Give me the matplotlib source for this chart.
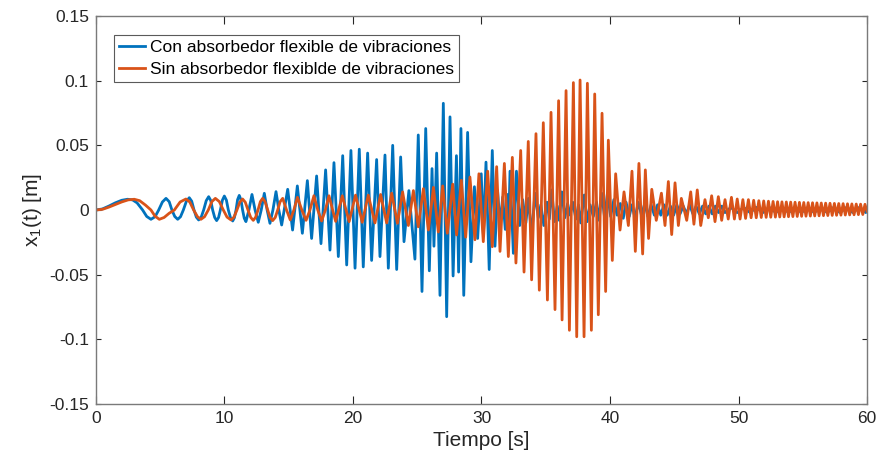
import matplotlib
matplotlib.use('Agg')
import numpy as np
import matplotlib.pyplot as plt

plt.rcParams['font.family'] = ['Liberation Sans', 'DejaVu Sans']
plt.rcParams['mathtext.fontset'] = 'custom'
plt.rcParams['mathtext.rm'] = 'Liberation Sans'
plt.rcParams['mathtext.it'] = 'Liberation Sans'

BLUE = '#0072BD'
ORANGE = '#D95319'
AXC = '#262626'

# with the flexible absorber: (time [s], x1 [m]) at turning points / crossings
con_pts = [
    (0.0, 0.0), (0.5, 0.0008), (1.0, 0.0030), (1.5, 0.0055), (2.0, 0.0075),
    (2.46, 0.0083), (2.85, 0.0078), (3.2, 0.0055), (3.63, 0.0), (3.95, -0.0050),
    (4.28, -0.0072), (4.6, -0.0052), (4.88, 0.0), (5.17, 0.0062), (5.45, 0.0090),
    (5.70, 0.0064), (5.91, 0.0), (6.13, -0.0050), (6.36, -0.0072), (6.58, -0.0052),
    (6.80, 0.0), (7.03, 0.0066), (7.26, 0.0095), (7.45, 0.0068), (7.63, 0.0),
    (7.81, -0.0055), (7.99, -0.0077), (8.19, -0.0055), (8.38, 0.0), (8.58, 0.0072),
    (8.77, 0.0103), (8.93, 0.0074), (9.08, 0.0), (9.24, -0.0058), (9.39, -0.0082),
    (9.54, -0.0058), (9.68, 0.0), (9.84, 0.0076), (9.99, 0.0108), (10.15, 0.0076),
    (10.30, 0.0), (10.47, -0.0060), (10.64, -0.0085), (10.77, -0.0060), (10.90, 0.0),
    (11.02, 0.0080), (11.15, 0.0113), (11.28, 0.0080), (11.41, 0.0), (11.54, -0.0064),
    (11.67, -0.0090), (11.90, 0.0), (12.14, 0.0120), (12.38, 0.0), (12.63, -0.0095),
    (12.86, 0.0), (13.10, 0.0129), (13.32, 0.0), (13.54, -0.0103), (13.77, 0.0),
    (14.01, 0.0142), (14.23, 0.0), (14.45, -0.0116), (14.92, 0.0160), (15.30, -0.0155),
    (15.67, 0.0186), (16.06, -0.0180), (16.45, 0.0227), (16.78, -0.0220), (17.17, 0.0263),
    (17.51, -0.0260), (17.87, 0.0310), (18.21, -0.0310), (18.52, 0.0366), (18.86, -0.0360),
    (19.20, 0.0420), (19.51, -0.0425), (19.84, 0.0460), (20.16, -0.0450), (20.49, 0.0470),
    (20.80, -0.0440), (21.14, 0.0440), (21.45, -0.0390), (21.84, 0.0390), (22.10, -0.0360),
    (22.49, 0.0425), (22.75, -0.0450), (23.09, 0.0500), (23.40, -0.0460), (23.71, 0.0410),
    (23.97, -0.0245), (24.35, 0.0150), (24.82, -0.0380), (25.08, 0.0580), (25.37, -0.0630),
    (25.66, 0.0630), (25.94, -0.0470), (26.15, 0.0320), (26.30, -0.0280), (26.51, 0.0440),
    (26.77, -0.0660), (27.03, 0.0825), (27.29, -0.0825), (27.55, 0.0720), (27.79, -0.0510),
    (28.05, 0.0420), (28.22, -0.0480), (28.40, 0.0630), (28.62, -0.0660), (28.92, 0.0600),
    (29.18, -0.0400), (29.45, 0.0180), (29.70, -0.0220), (29.98, 0.0280), (30.15, -0.0200),
    (30.35, 0.0370), (30.60, -0.0460), (30.84, 0.0460), (31.05, -0.0280), (31.25, 0.0150),
    (31.45, -0.0120), (31.65, 0.0100), (31.85, -0.0150), (32.02, 0.0120), (32.12, -0.0100),
    (32.22, 0.0300), (32.48, -0.0335), (32.72, 0.0300), (32.97, -0.0120), (33.20, 0.0080),
    (33.45, -0.0100), (33.65, 0.0090), (33.90, -0.0200), (34.16, 0.0130), (34.42, -0.0060),
    (34.62, 0.0040), (34.85, -0.0120), (35.10, 0.0060), (35.28, -0.0070), (35.46, 0.0155),
    (35.68, -0.0090), (35.90, 0.0030), (36.05, -0.0080), (36.25, 0.0140), (36.48, -0.0060),
    (36.70, 0.0050), (36.90, -0.0040), (37.10, 0.0060), (37.35, -0.0070), (37.55, 0.0040),
    (37.72, -0.0100), (38.00, 0.0116), (38.22, -0.0090), (38.45, 0.0040), (38.70, -0.0050),
    (38.95, 0.0060), (39.15, -0.0080), (39.35, 0.0130), (39.58, -0.0060), (39.80, 0.0130),
    (40.05, -0.0050), (40.30, 0.0080), (40.55, -0.0040), (40.80, 0.0050), (41.03, -0.0064),
    (41.25, 0.0060), (41.50, -0.0050), (41.70, 0.0040), (41.95, -0.0060), (42.20, 0.0060),
    (42.45, -0.0040), (42.70, 0.0050), (42.95, -0.0050), (43.20, 0.0040), (43.45, -0.0040),
    (43.70, 0.0040), (43.95, -0.0040), (44.20, 0.0040), (44.45, -0.0040), (44.70, 0.0030),
    (44.95, -0.0040), (45.20, 0.0040), (45.45, -0.0030), (45.70, 0.0030), (45.95, -0.0030),
    (46.20, 0.0040), (46.45, -0.0030), (46.70, 0.0030), (46.95, -0.0030), (47.20, 0.0030),
    (47.45, -0.0030), (47.70, 0.0030), (47.95, -0.0030), (48.20, 0.0030), (48.45, -0.0020),
    (48.70, 0.0030), (48.95, -0.0020), (49.40, 0.0020), (49.90, -0.0020), (50.40, 0.0020),
    (50.90, -0.0020), (51.40, 0.0020), (51.90, -0.0020), (52.40, 0.0020), (52.90, -0.0020),
    (53.40, 0.0020), (53.90, -0.0020), (54.40, 0.0020), (54.90, -0.0020), (55.40, 0.0020),
    (55.90, -0.0020), (56.40, 0.0020), (56.90, -0.0020), (57.40, 0.0020), (57.90, -0.0020),
    (58.40, 0.0020), (58.90, -0.0020), (59.40, 0.0020), (59.90, -0.0020), (60.0, 0.0),
]

# without the absorber
sin_pts = [
    (0.0, 0.0), (0.5, 0.0005), (1.0, 0.0022), (1.5, 0.0042), (2.0, 0.0062),
    (2.5, 0.0078), (2.98, 0.0083), (3.4, 0.0072), (3.85, 0.0038), (4.28, 0.0),
    (4.6, -0.0048), (4.93, -0.0072), (5.3, -0.0058), (5.7, -0.0025), (6.1, 0.0),
    (6.55, 0.0062), (7.0, 0.0085), (7.3, 0.0062), (7.6, 0.0), (7.9, -0.0052),
    (8.17, -0.0072), (8.45, -0.0052), (8.74, 0.0), (9.02, 0.0065), (9.29, 0.0090),
    (9.6, 0.0065), (9.91, 0.0), (10.2, -0.0055), (10.51, -0.0077), (10.74, -0.0055),
    (10.97, 0.0), (11.19, 0.0060), (11.41, 0.0085), (11.62, 0.0060), (11.83, 0.0),
    (12.04, -0.0057), (12.24, -0.0080), (12.42, -0.0057), (12.61, 0.0), (12.79, 0.0064),
    (12.97, 0.0090), (13.16, 0.0064), (13.36, 0.0), (13.55, -0.0058), (13.75, -0.0082),
    (13.95, -0.0058), (14.14, 0.0), (14.33, 0.0064), (14.53, 0.0090), (14.83, 0.0),
    (15.12, -0.0077), (15.40, 0.0), (15.68, 0.0098), (16.02, 0.0), (16.35, -0.0080),
    (16.65, 0.0), (16.96, 0.0110), (17.26, 0.0), (17.56, -0.0085), (17.85, 0.0),
    (18.13, 0.0110), (18.65, -0.0088), (19.17, 0.0110), (19.70, -0.0090), (20.20, 0.0115),
    (20.72, -0.0095), (21.19, 0.0115), (21.71, -0.0100), (22.15, 0.0120), (22.62, -0.0100),
    (23.01, 0.0130), (23.46, -0.0103), (23.86, 0.0140), (24.31, -0.0120), (24.70, 0.0150),
    (25.08, -0.0130), (25.48, 0.0165), (25.87, -0.0155), (26.26, 0.0175), (26.64, -0.0170),
    (26.98, 0.0186), (27.34, -0.0180), (27.76, 0.0200), (28.06, -0.0193), (28.43, 0.0230),
    (28.77, -0.0210), (29.10, 0.0255), (29.49, -0.0230), (29.80, 0.0280), (30.14, -0.0245),
    (30.48, 0.0300), (30.84, -0.0284), (31.18, 0.0335), (31.44, -0.0320), (31.78, 0.0360),
    (32.09, -0.0360), (32.40, 0.0407), (32.68, -0.0410), (33.05, 0.0460), (33.31, -0.0480),
    (33.64, 0.0530), (33.90, -0.0540), (34.24, 0.0590), (34.50, -0.0620), (34.81, 0.0675),
    (35.13, -0.0696), (35.41, 0.0755), (35.72, -0.0770), (36.00, 0.0845), (36.27, -0.0850),
    (36.58, 0.0923), (36.84, -0.0930), (37.15, 0.0985), (37.41, -0.0980), (37.67, 0.1005),
    (37.98, -0.0980), (38.24, 0.0980), (38.55, -0.0930), (38.81, 0.0897), (39.09, -0.0810),
    (39.38, 0.0748), (39.66, -0.0630), (39.87, 0.0540), (40.18, -0.0390), (40.44, 0.0280),
    (40.78, -0.0155), (41.09, 0.0140), (41.43, -0.0120), (41.71, 0.0300), (41.97, -0.0320),
    (42.25, 0.0360), (42.54, -0.0340), (42.75, 0.0310), (43.00, -0.0220), (43.25, 0.0160),
    (43.60, -0.0080), (44.00, 0.0130), (44.28, -0.0120), (44.54, 0.0220), (44.80, -0.0190),
    (45.06, 0.0210), (45.32, -0.0120), (45.55, 0.0090), (45.97, -0.0080), (46.28, 0.0140),
    (46.53, -0.0110), (46.79, 0.0155), (47.06, -0.0120), (47.39, 0.0080), (47.65, -0.0060),
    (47.91, 0.0110), (48.17, -0.0090), (48.43, 0.0103), (48.69, -0.0080), (48.95, 0.0080),
    (49.20, -0.0070), (49.45, 0.0098), (49.68, -0.0070), (49.90, 0.0085), (50.12, -0.0070),
    (50.34, 0.0080), (50.55, -0.0065), (50.77, 0.0080), (50.98, -0.0060), (51.18, 0.0075),
    (51.38, -0.0060), (51.58, 0.0072), (51.77, -0.0058), (51.96, 0.0070), (52.15, -0.0057),
    (52.33, 0.0068), (52.51, -0.0056), (52.69, 0.0066), (52.87, -0.0055), (53.04, 0.0064),
    (53.21, -0.0054), (53.38, 0.0063), (53.55, -0.0053), (53.72, 0.0062), (53.89, -0.0052),
    (54.06, 0.0061), (54.23, -0.0051), (54.40, 0.0060), (54.57, -0.0050), (54.74, 0.0059),
    (54.91, -0.0049), (55.08, 0.0058), (55.25, -0.0048), (55.42, 0.0057), (55.59, -0.0047),
    (55.76, 0.0056), (55.93, -0.0046), (56.10, 0.0055), (56.27, -0.0045), (56.44, 0.0054),
    (56.61, -0.0044), (56.78, 0.0053), (56.95, -0.0043), (57.12, 0.0052), (57.29, -0.0042),
    (57.46, 0.0051), (57.63, -0.0041), (57.80, 0.0050), (57.97, -0.0040), (58.14, 0.0049),
    (58.31, -0.0039), (58.48, 0.0048), (58.65, -0.0038), (58.82, 0.0047), (58.99, -0.0037),
    (59.16, 0.0046), (59.33, -0.0036), (59.50, 0.0045), (59.67, -0.0035), (59.84, 0.0044),
    (60.0, -0.0010),
]

labels = ['Con absorbedor flexible de vibraciones',
          'Sin absorbedor flexiblde de vibraciones']

t_con, x_con = zip(*con_pts)
t_sin, x_sin = zip(*sin_pts)

fig = plt.figure(figsize=(8.78, 4.69), dpi=100)
ax = fig.add_axes([0.1093, 0.1386, 0.8782, 0.8273])

ax.plot(t_con, x_con, color=BLUE, lw=2.0, label=labels[0],
        solid_joinstyle='round')
ax.plot(t_sin, x_sin, color=ORANGE, lw=2.0, label=labels[1],
        solid_joinstyle='round')

ax.set_xlim(0, 60)
ax.set_ylim(-0.15, 0.15)
ax.set_xticks(np.arange(0, 61, 10))
ax.set_yticks([-0.15, -0.1, -0.05, 0, 0.05, 0.1, 0.15])
ax.set_yticklabels(['-0.15', '-0.1', '-0.05', '0', '0.05', '0.1', '0.15'])

ax.tick_params(axis='both', direction='in', top=True, right=True,
               labelsize=12.5, colors=AXC, width=0.8)
ax.tick_params(axis='x', length=5.5, pad=5)
ax.tick_params(axis='y', length=3.5, pad=5)
for s in ax.spines.values():
    s.set_color('#7a7a7a')
    s.set_linewidth(1.0)

ax.set_xlabel('Tiempo [s]', fontsize=15, color=AXC, labelpad=4)
ax.set_ylabel('x$_1$(t) [m]', fontsize=15, color=AXC, labelpad=4)

leg = ax.legend(loc='upper left', bbox_to_anchor=(0.0234, 0.951),
                borderaxespad=0, fontsize=12.5, handlelength=1.5,
                handletextpad=0.25, labelspacing=0.35, borderpad=0.3,
                fancybox=False, framealpha=1)
leg.get_frame().set_edgecolor('#5a5a5a')
leg.get_frame().set_linewidth(0.8)

fig.savefig('out.png', dpi=100)
